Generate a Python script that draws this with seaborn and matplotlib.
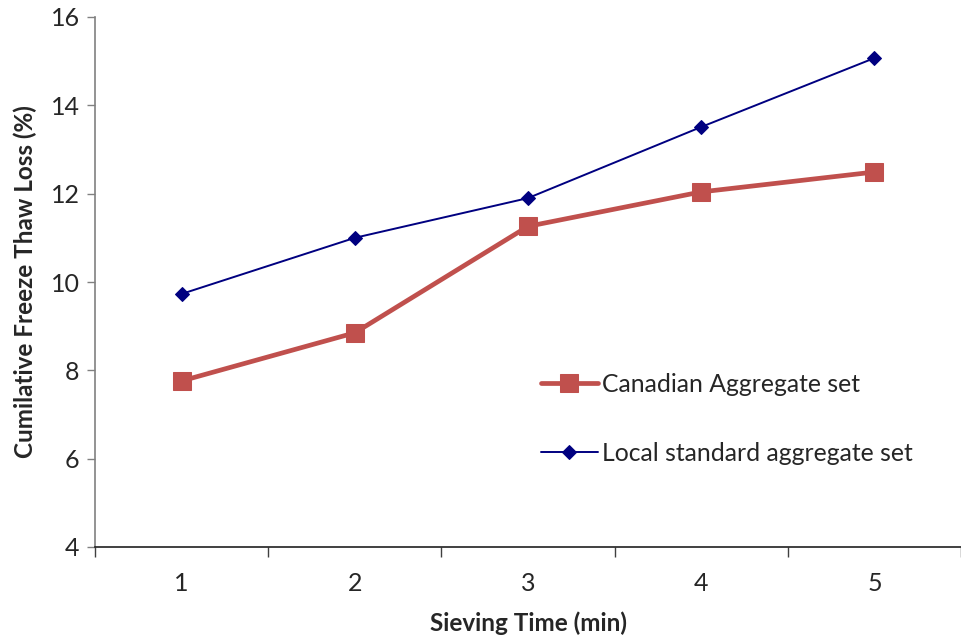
import matplotlib
matplotlib.use("Agg")
import matplotlib.pyplot as plt
import seaborn as sns
import pandas as pd
from matplotlib.ticker import FixedLocator, NullFormatter

sieving_time = [1, 2, 3, 4, 5]
canadian_loss = [7.76, 8.85, 11.26, 12.04, 12.49]
local_loss = [9.73, 11.0, 11.9, 13.51, 15.07]
series_names = ["Canadian Aggregate set", "Local standard aggregate set"]

sns.set_theme(style="white")
plt.rcParams["font.family"] = ["Lato", "DejaVu Sans"]

df = pd.DataFrame({
    "time": sieving_time * 2,
    "loss": canadian_loss + local_loss,
    "series": [series_names[0]] * 5 + [series_names[1]] * 5,
})

fig = plt.figure(figsize=(9.62, 6.36), dpi=100)
ax = fig.add_axes([95 / 962, 1 - 547 / 636, (961 - 95) / 962, (547 - 17) / 636])

sns.lineplot(data=df[df.series == series_names[0]], x="time", y="loss", ax=ax,
             color="#C0504D", linewidth=3.4, marker="s", markersize=13.5,
             markeredgecolor="#C0504D", label=series_names[0])
sns.lineplot(data=df[df.series == series_names[1]], x="time", y="loss", ax=ax,
             color="#000080", linewidth=1.4, marker="D", markersize=7.5,
             markeredgecolor="#000080", label=series_names[1])

ax.set_xlim(0.5, 5.5)
ax.set_ylim(4, 16)
ax.set_yticks([4, 6, 8, 10, 12, 14, 16])
ax.set_yticklabels(["4", "6", "8", "10", "12", "14", "16"])

# category boundaries carry the tick marks, labels sit at category centres
ax.xaxis.set_major_locator(FixedLocator([0.5, 1.5, 2.5, 3.5, 4.5, 5.5]))
ax.xaxis.set_major_formatter(NullFormatter())
ax.xaxis.set_minor_locator(FixedLocator(sieving_time))
ax.set_xticklabels([str(t) for t in sieving_time], minor=True)
ax.tick_params(axis="x", which="major", direction="out", length=7, width=1,
               color="#404040", bottom=True)
ax.tick_params(axis="x", which="minor", length=0, pad=18, labelsize=18, bottom=True)
ax.tick_params(axis="y", direction="out", length=6, width=1, color="#808080",
               left=True, labelsize=18, pad=5)

for side in ["top", "right"]:
    ax.spines[side].set_visible(False)
ax.spines["left"].set_color("#808080")
ax.spines["left"].set_linewidth(1.2)
ax.spines["bottom"].set_color("#202020")
ax.spines["bottom"].set_linewidth(1.2)

ax.set_xlabel("Sieving Time (min)", fontsize=17.5, fontweight="bold", labelpad=12)
ax.set_ylabel("Cumilative Freeze Thaw Loss (%)", fontsize=17.5, fontweight="bold", labelpad=10)

leg = ax.legend(loc="upper left", bbox_to_anchor=(541 / 962, 1 - 373 / 636),
                bbox_transform=fig.transFigure, frameon=False, fontsize=17.8,
                handlelength=2.3, handletextpad=0.15, labelspacing=1.85,
                borderaxespad=0, borderpad=0)

fig.savefig("out.png", dpi=100, facecolor="white")
